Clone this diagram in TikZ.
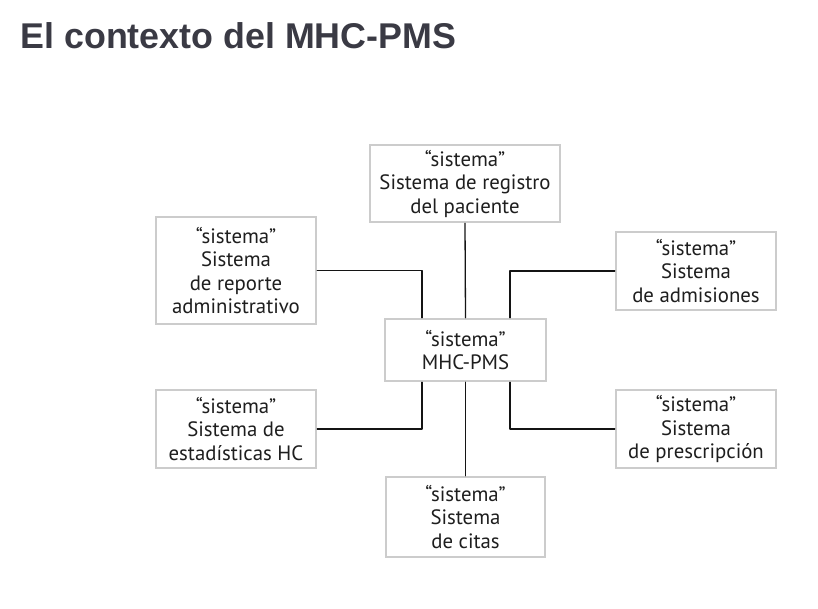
\documentclass[tikz,border=0pt]{standalone}
\usepackage{fontspec}
\setmainfont{PT Sans}
\newfontfamily\titlefont{Liberation Sans}
\begin{document}
\begin{tikzpicture}[x=1pt,y=-1pt,
	sysbox/.style={draw=BOXGRAY, line width=2.5, fill=WHITE, align=center, inner sep=0,
		font=\fontsize{20.8}{23.5}\selectfont, text=TEXTGRAY},
	link/.style={BLACK, solid, line join=round, line cap=round, line width=1.3}]

\definecolor{BLACK}{RGB}{20,20,20}
\definecolor{WHITE}{RGB}{255,255,255}
\definecolor{BOXGRAY}{RGB}{204,204,204}
\definecolor{TEXTGRAY}{RGB}{30,30,30}
\definecolor{TITLEGRAY}{RGB}{58,58,68}
\useasboundingbox[fill=WHITE] (0,0) rectangle (818,608);
\draw[BLACK]
	(17,48) node[anchor=base west, font=\titlefont\bfseries\fontsize{35.8}{40}\selectfont, TITLEGRAY] (title)
	{El contexto del MHC-PMS};
\draw[BLACK]
	(465,183.5) node[sysbox, minimum width=190pt, minimum height=77pt] (reg)
	{``sistema''\\Sistema de registro\\del paciente};
\draw[BLACK]
	(236,270.5) node[sysbox, minimum width=160pt, minimum height=107pt] (rep)
	{``sistema''\\Sistema\\de reporte\\administrativo};
\draw[BLACK]
	(696,271) node[sysbox, minimum width=160pt, minimum height=78pt] (adm)
	{``sistema''\\Sistema\\de admisiones};
\draw[BLACK]
	(465.5,350) node[sysbox, minimum width=161pt, minimum height=62pt] (mhc)
	{``sistema''\\MHC-PMS};
\draw[BLACK]
	(236,429) node[sysbox, minimum width=160pt, minimum height=78pt] (est)
	{``sistema''\\Sistema de\\estadísticas HC};
\draw[BLACK]
	(696,429) node[sysbox, minimum width=160pt, minimum height=78pt] (pre)
	{``sistema''\\Sistema\\de prescripción};
\draw[BLACK]
	(465.5,517) node[sysbox, minimum width=159pt, minimum height=80pt] (cit)
	{``sistema''\\Sistema\\de citas};
\draw[link]
	(reg.south) -- (mhc.north);
\draw[link]
	(mhc.south) -- (cit.north);
\draw[link]
	(rep.east) -| ([xshift=-43.5pt]mhc.north);
\draw[link]
	(adm.west) -| ([xshift=44.5pt]mhc.north);
\draw[link]
	(est.east) -| ([xshift=-43.5pt]mhc.south);
\draw[link]
	(pre.west) -| ([xshift=44.5pt]mhc.south);
\end{tikzpicture}
\end{document}
